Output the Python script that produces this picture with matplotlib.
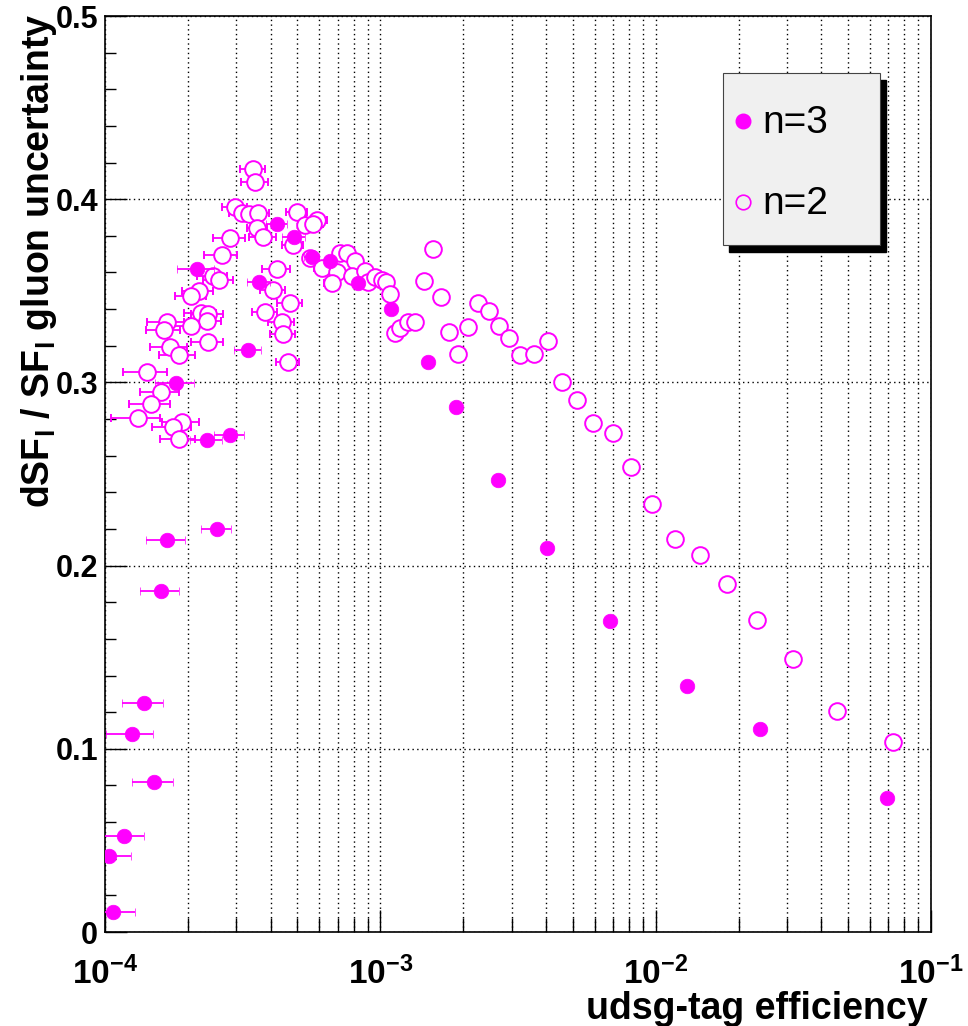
import matplotlib
matplotlib.use('Agg')
import matplotlib.pyplot as plt
from matplotlib import font_manager
from matplotlib.ticker import LogLocator, MultipleLocator, FixedLocator, FixedFormatter, NullFormatter
from matplotlib.patches import Rectangle
from matplotlib.lines import Line2D

# ---------------- data ----------------
# n=2 (open circles)
n2_eff = [3.46e-4, 3.51e-4, 2.97e-4, 3.14e-4, 3.34e-4, 3.59e-4, 3.57e-4, 3.76e-4, 2.84e-4, 2.65e-4,
          4.21e-4, 2.47e-4, 2.59e-4, 2.19e-4, 2.06e-4, 4.09e-4, 4.70e-4, 2.23e-4, 2.37e-4, 3.81e-4,
          2.34e-4, 2.06e-4, 1.68e-4, 1.64e-4, 4.38e-4, 4.44e-4, 2.37e-4, 1.72e-4, 1.85e-4, 4.61e-4,
          1.42e-4, 1.60e-4, 1.47e-4, 1.32e-4, 1.90e-4, 1.77e-4, 1.86e-4,
          4.97e-4, 5.33e-4, 5.87e-4, 5.71e-4, 4.83e-4, 5.55e-4, 7.14e-4, 7.55e-4, 8.09e-4,
          6.13e-4, 6.94e-4, 6.66e-4, 7.87e-4, 8.80e-4, 9.05e-4, 9.56e-4, 1.01e-3, 1.05e-3, 1.08e-3,
          1.13e-3, 1.18e-3, 1.26e-3, 1.34e-3, 1.44e-3, 1.55e-3, 1.66e-3, 1.77e-3, 1.92e-3, 2.09e-3,
          2.27e-3, 2.49e-3, 2.70e-3, 2.94e-3, 3.22e-3, 3.63e-3, 4.08e-3, 4.58e-3, 5.19e-3, 5.91e-3,
          6.99e-3, 8.14e-3, 9.73e-3, 1.18e-2, 1.45e-2, 1.82e-2, 2.34e-2, 3.16e-2, 4.57e-2, 7.30e-2]
n2_unc = [0.4165, 0.4096, 0.3956, 0.3923, 0.3919, 0.3926, 0.3841, 0.3792, 0.3787, 0.3694,
          0.3617, 0.3581, 0.3559, 0.3501, 0.3472, 0.3504, 0.3435, 0.3377, 0.3373, 0.3386,
          0.3337, 0.3308, 0.3331, 0.3286, 0.3331, 0.3264, 0.3222, 0.3195, 0.3150, 0.3113,
          0.3058, 0.2949, 0.2880, 0.2807, 0.2785, 0.2758, 0.2689,
          0.3932, 0.3859, 0.3886, 0.3865, 0.3750, 0.3677, 0.3705, 0.3705, 0.3663,
          0.3623, 0.3604, 0.3541, 0.3581, 0.3610, 0.3550, 0.3577, 0.3559, 0.3550, 0.3483,
          0.3271, 0.3295, 0.3331, 0.3331, 0.3555, 0.3728, 0.3465, 0.3273, 0.3155, 0.3304,
          0.3432, 0.3390, 0.3308, 0.3241, 0.3150, 0.3155, 0.3228, 0.3004, 0.2904, 0.2780,
          0.2725, 0.2537, 0.2335, 0.2144, 0.2058, 0.1900, 0.1703, 0.1490, 0.1206, 0.1039]
n2_xerr = [3.6e-5, 4.0e-5, 3.1e-5, 3.1e-5, 3.3e-5, 3.6e-5, 2.9e-5, 4.3e-5, 3.8e-5, 3.6e-5,
           4.8e-5, 3.1e-5, 3.2e-5, 2.8e-5, 2.7e-5, 4.3e-5, 4.9e-5, 3.0e-5, 3.2e-5, 4.0e-5,
           3.0e-5, 3.1e-5, 2.6e-5, 2.3e-5, 4.6e-5, 4.7e-5, 3.2e-5, 2.6e-5, 2.8e-5, 4.4e-5,
           2.6e-5, 2.6e-5, 2.5e-5, 2.7e-5, 2.9e-5, 2.9e-5, 2.7e-5,
           4.3e-5, 2.7e-5, 5.1e-5, 4.6e-5, 4.2e-5, 3.3e-5, 2.9e-5, 3.0e-5, 2.4e-5,
           3.7e-5, 3.5e-5, 4.0e-5, 2.4e-5, 2.6e-5, 2.7e-5, 2.0e-5, 2.0e-5, 2.0e-5, 2.0e-5,
           2.0e-5, 2.0e-5, 2.0e-5, 2.0e-5, 2.0e-5, 2.0e-5, 2.0e-5, 2.0e-5, 2.0e-5, 2.0e-5,
           2.0e-5, 2.0e-5, 2.0e-5, 2.0e-5, 2.0e-5, 2.0e-5, 2.0e-5, 2.0e-5, 2.0e-5, 2.0e-5,
           2.0e-5, 2.0e-5, 2.0e-5, 2.0e-5, 2.0e-5, 2.0e-5, 2.0e-5, 2.0e-5, 2.0e-5, 2.0e-5]

# n=3 (filled circles)
n3_eff = [4.21e-4, 4.86e-4, 5.63e-4, 6.57e-4, 8.32e-4, 1.09e-3, 1.49e-3, 1.89e-3, 2.67e-3, 4.04e-3,
          6.83e-3, 1.30e-2, 2.39e-2, 6.94e-2, 2.15e-4, 3.62e-4, 3.32e-4, 1.81e-4, 2.84e-4, 2.34e-4,
          2.55e-4, 1.68e-4, 1.60e-4, 1.39e-4, 1.25e-4, 1.51e-4, 1.17e-4, 1.03e-4, 1.07e-4]
n3_unc = [0.3865, 0.3792, 0.3683, 0.3664, 0.3544, 0.3399, 0.3113, 0.2864, 0.2467, 0.2094,
          0.1698, 0.1344, 0.1108, 0.0730, 0.3619, 0.3550, 0.3177, 0.2998, 0.2713, 0.2686,
          0.2198, 0.2140, 0.1863, 0.1248, 0.1079, 0.0820, 0.0526, 0.0415, 0.0111]
n3_xerr = [3.7e-5, 4.7e-5, 3.4e-5, 2.6e-5, 2.5e-5, 2.0e-5, 2.0e-5, 2.0e-5, 2.0e-5, 2.0e-5,
           2.0e-5, 2.0e-5, 2.0e-5, 2.0e-5, 3.3e-5, 3.5e-5, 3.8e-5, 2.9e-5, 3.5e-5, 3.1e-5,
           3.2e-5, 2.7e-5, 2.6e-5, 2.4e-5, 2.4e-5, 2.6e-5, 2.2e-5, 2.1e-5, 2.2e-5]

series_labels = ['n=3', 'n=2']
x_ticks = [1e-4, 1e-3, 1e-2, 1e-1]
x_ticklabels = [r'$\mathbf{10^{-4}}$', r'$\mathbf{10^{-3}}$', r'$\mathbf{10^{-2}}$', r'$\mathbf{10^{-1}}$']
y_ticks = [0.0, 0.1, 0.2, 0.3, 0.4, 0.5]
y_ticklabels = ['0', '0.1', '0.2', '0.3', '0.4', '0.5']
x_title = 'udsg-tag efficiency'
y_title = r'dSF$_{\mathbf{l}}$ / SF$_{\mathbf{l}}$ gluon uncertainty'

# ---------------- fonts ----------------
names = {f.name for f in font_manager.fontManager.ttflist}
MAIN = 'Liberation Sans' if 'Liberation Sans' in names else 'DejaVu Sans'
plt.rcParams['font.family'] = [MAIN, 'DejaVu Sans']
plt.rcParams['mathtext.fontset'] = 'custom'
plt.rcParams['mathtext.rm'] = MAIN
plt.rcParams['mathtext.bf'] = MAIN + ':bold'

MAG = '#ff00ff'
W, H = 968, 1026
fig = plt.figure(figsize=(W / 100, H / 100), dpi=100)
ax = fig.add_axes([105 / W, 1 - 932 / H, (931 - 105) / W, (932 - 16) / H])

ax.set_xscale('log')
ax.set_xlim(1e-4, 1e-1)
ax.set_ylim(0, 0.5)

# ticks & grid
ax.xaxis.set_major_locator(FixedLocator(x_ticks))
ax.xaxis.set_minor_locator(LogLocator(base=10, subs=range(2, 10)))
ax.xaxis.set_major_formatter(FixedFormatter(x_ticklabels))
ax.xaxis.set_minor_formatter(NullFormatter())
ax.yaxis.set_major_locator(FixedLocator(y_ticks))
ax.yaxis.set_major_formatter(FixedFormatter(y_ticklabels))
ax.yaxis.set_minor_locator(MultipleLocator(0.02))
gridkw = dict(color='black', linestyle=(0, (1, 2.4)), linewidth=1.0)
ax.grid(True, which='major', axis='both', **gridkw)
ax.grid(True, which='minor', axis='x', **gridkw)
ax.set_axisbelow(True)

ax.tick_params(axis='x', which='major', direction='in', length=16, width=1.0, bottom=True, top=False,
               labelsize=24, pad=18)
ax.tick_params(axis='x', which='minor', direction='in', length=10, width=1.0, bottom=True, top=False)
ax.tick_params(axis='y', which='major', direction='in', length=16, width=1.0, left=True, right=False,
               labelsize=22, pad=5)
ax.tick_params(axis='y', which='minor', direction='in', length=8, width=1.0, left=True, right=False)
for lab in ax.get_yticklabels():
    lab.set_fontweight('bold')
for sp in ax.spines.values():
    sp.set_linewidth(1.2)

# data
ax.errorbar(n2_eff, n2_unc, xerr=n2_xerr, fmt='o', mfc='white', mec=MAG, mew=1.4, ms=12,
            ecolor=MAG, elinewidth=1.3, capsize=3, capthick=1.3, zorder=3)
ax.errorbar(n3_eff, n3_unc, xerr=n3_xerr, fmt='o', mfc=MAG, mec=MAG, mew=0.5, ms=10.5,
            ecolor=MAG, elinewidth=1.3, capsize=3, capthick=1.3, zorder=4)

# axis titles
fig.text(928 / W, 1 - 1019 / H, x_title, ha='right', va='baseline', fontweight='bold',
         fontsize=27)
fig.text(39 / W, 1 - 14 / H, y_title, ha='center', va='top', rotation=90, fontweight='bold',
         fontsize=27)

# legend box (ROOT style with shadow)
def fx(px):
    return px / W

def fy(py):
    return 1 - py / H

fig.add_artist(Rectangle((fx(729), fy(252)), fx(880) - fx(723), fy(73) - fy(245),
                         transform=fig.transFigure, facecolor='black', edgecolor='black', zorder=10))
fig.add_artist(Rectangle((fx(723), fy(245)), fx(880) - fx(723), fy(73) - fy(245),
                         transform=fig.transFigure, facecolor='#f0f0f0', edgecolor='#444444',
                         linewidth=0.8, zorder=11))
fig.add_artist(Line2D([fx(743)], [fy(121)], transform=fig.transFigure, marker='o', ms=10.5,
                      mfc=MAG, mec=MAG, linestyle='none', zorder=12))
fig.add_artist(Line2D([fx(743)], [fy(202)], transform=fig.transFigure, marker='o', ms=10.5,
                      mfc='none', mec=MAG, mew=1.2, linestyle='none', zorder=12))
fig.text(fx(762), fy(123), series_labels[0], ha='left', va='center', fontsize=28, zorder=13)
fig.text(fx(762), fy(204), series_labels[1], ha='left', va='center', fontsize=28, zorder=13)

fig.savefig('out.png', dpi=100)
